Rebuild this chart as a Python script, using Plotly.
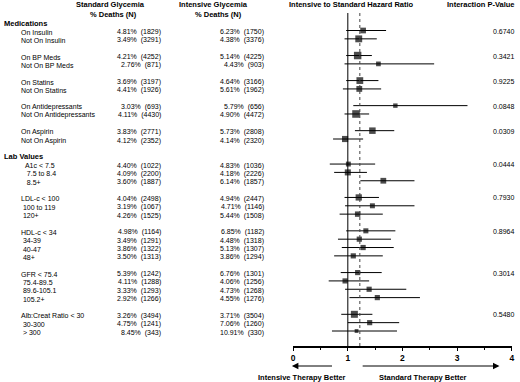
import math
import plotly.graph_objects as go

# ---------------- data ----------------
labels = ["On Insulin", "Not On Insulin",
          "On BP Meds", "Not On BP Meds",
          "On Statins", "Not On Statins",
          "On Antidepressants", "Not On Antidepressants",
          "On Aspirin", "Not On Aspirin",
          "\u00a0\u00a0A1c < 7.5", "\u00a0\u00a0\u00a07.5 to 8.4", "\u00a0\u00a0\u00a08.5+",
          "LDL-c < 100", "\u00a0100 to 119", "\u00a0120+",
          "HDL-c < 34", "\u00a034-39", "\u00a040-47", "\u00a048+",
          "GFR < 75.4", "\u00a075.4-89.5", "\u00a089.6-105.1", "\u00a0105.2+",
          "Alb:Creat Ratio < 30", "\u00a030-300", "\u00a0> 300"]

std_pct = [4.81, 3.49, 4.21, 2.76, 3.69, 4.41, 3.03, 4.11, 3.83, 4.12,
           4.40, 4.09, 3.60, 4.04, 3.19, 4.26, 4.98, 3.49, 3.86, 3.50,
           5.39, 4.11, 3.33, 2.92, 3.26, 4.75, 8.45]
std_n = [1829, 3291, 4252, 871, 3197, 1926, 693, 4430, 2771, 2352,
         1022, 2200, 1887, 2498, 1067, 1525, 1164, 1291, 1322, 1313,
         1242, 1288, 1293, 1266, 3494, 1241, 343]
int_pct = [6.23, 4.38, 5.14, 4.43, 4.64, 5.61, 5.79, 4.90, 5.73, 4.14,
           4.83, 4.18, 6.14, 4.94, 4.71, 5.44, 6.85, 4.48, 5.13, 3.86,
           6.76, 4.06, 4.73, 4.55, 3.71, 7.06, 10.91]
int_n = [1750, 3376, 4225, 903, 3166, 1962, 656, 4472, 2808, 2320,
         1036, 2226, 1857, 2447, 1146, 1508, 1182, 1318, 1307, 1294,
         1301, 1256, 1268, 1276, 3504, 1260, 330]

hr = [1.28, 1.20, 1.18, 1.56, 1.22, 1.21, 1.87, 1.15, 1.45, 0.95,
      1.01, 1.00, 1.65, 1.20, 1.45, 1.18, 1.33, 1.21, 1.28, 1.10,
      1.18, 0.95, 1.39, 1.54, 1.12, 1.40, 1.16]
hr_lo = [0.97, 0.94, 0.97, 0.94, 0.97, 0.91, 1.10, 0.94, 1.13, 0.73,
         0.67, 0.75, 1.23, 0.94, 0.95, 0.85, 0.97, 0.82, 0.89, 0.75,
         0.87, 0.65, 0.95, 1.03, 0.88, 1.00, 0.71]
hr_hi = [1.70, 1.53, 1.44, 2.58, 1.56, 1.61, 3.19, 1.39, 1.85, 1.28,
         1.50, 1.35, 2.22, 1.57, 2.22, 1.64, 1.87, 1.79, 1.84, 1.64,
         1.62, 1.39, 2.07, 2.32, 1.45, 1.94, 1.90]

section_names = ["Medications", "Lab Values"]
group_sizes = [2, 2, 2, 2, 2, 3, 3, 4, 4, 3]
group_section = [0, 0, 0, 0, 0, 1, 1, 1, 1, 1]
p_values = [0.6740, 0.3421, 0.9225, 0.0848, 0.0309, 0.0444, 0.7930, 0.8964, 0.3014, 0.5480]
overall_hr = 1.22
x_ticks = [0, 1, 2, 3, 4]

# ---------------- layout of rows ----------------
W, H = 520, 382
FONT = "Liberation Sans, Arial, Helvetica, sans-serif"


def px(x):
    return x / W


def py(y):
    return 1 - y / H


slots = []
header_slots = []
p_slots = []
k = -1
cur_section = None
for g, size in enumerate(group_sizes):
    if group_section[g] != cur_section:
        cur_section = group_section[g]
        header_slots.append(k)
        k += 1
    p_slots.append(k)
    for j in range(size):
        slots.append(k + j)
    k += size + 1

sizes = [2.4 + 0.055 * math.sqrt(a + b) for a, b in zip(std_n, int_n)]

fig = go.Figure()
fig.add_trace(go.Scatter(
    x=hr, y=slots, mode="markers",
    marker=dict(symbol="square", color="black", size=sizes, line=dict(width=0)),
    error_x=dict(type="data", symmetric=False,
                 array=[h - m for h, m in zip(hr_hi, hr)],
                 arrayminus=[m - l for m, l in zip(hr, hr_lo)],
                 color="black", thickness=1, width=0),
    showlegend=False, hoverinfo="skip", cliponaxis=False,
))

ann = []
small = dict(family=FONT, size=7, color="black")
bold = dict(family=FONT, size=7.5, color="black")

for s, lab, sp, sn, ip, inn in zip(slots, labels, std_pct, std_n, int_pct, int_n):
    ann.append(dict(x=px(17.3), y=s, xref="paper", yref="y", text=lab,
                    xanchor="left", yanchor="middle", showarrow=False,
                    font=small, yshift=-1.5))
    ann.append(dict(x=px(163), y=s, xref="paper", yref="y",
                    text=f"{sp:.2f}%\u00a0\u00a0({sn})",
                    xanchor="right", yanchor="middle", showarrow=False,
                    font=small, yshift=-1.5))
    ann.append(dict(x=px(267), y=s, xref="paper", yref="y",
                    text=f"{ip:.2f}%\u00a0\u00a0({inn})",
                    xanchor="right", yanchor="middle", showarrow=False,
                    font=small, yshift=-1.5))

for s, name in zip(header_slots, section_names):
    ann.append(dict(x=px(0.5), y=s, xref="paper", yref="y", text=f"<b>{name}</b>",
                    xanchor="left", yanchor="middle", showarrow=False, font=bold,
                    yshift=-1))

for s, p in zip(p_slots, p_values):
    ann.append(dict(x=px(519.5), y=s, xref="paper", yref="y", text=f"{p:.4f}",
                    xanchor="right", yanchor="middle", showarrow=False, font=small,
                    yshift=-0.5))

headers = [("Standard Glycemia", 109.5, 4), ("% Deaths (N)", 112.7, 15),
           ("Intensive Glycemia", 213.7, 4), ("% Deaths (N)", 218.7, 15),
           ("Intensive to Standard Hazard Ratio", 353, 4),
           ("Interaction P-Value", 483.3, 4),
           ("Intensive Therapy Better", 303, 377.5),
           ("Standard Therapy Better", 425, 377.5)]
for t, x, y in headers:
    ann.append(dict(x=px(x), y=py(y), xref="paper", yref="paper", text=f"<b>{t}</b>",
                    xanchor="center", yanchor="middle", showarrow=False, font=bold))

# direction arrows
ann.append(dict(x=px(292.7), y=py(366), xref="paper", yref="paper", text="",
                showarrow=True, ax=41.6, ay=0, axref="pixel", ayref="pixel",
                arrowhead=2, arrowsize=1.3, arrowwidth=1, arrowcolor="black"))
ann.append(dict(x=px(502.3), y=py(366), xref="paper", yref="paper", text="",
                showarrow=True, ax=-138.3, ay=0, axref="pixel", ayref="pixel",
                arrowhead=2, arrowsize=1.3, arrowwidth=1, arrowcolor="black"))

shapes = [
    dict(type="line", xref="x", yref="paper", x0=1, x1=1, y0=py(346), y1=py(13),
         line=dict(color="black", width=1)),
    dict(type="line", xref="x", yref="paper", x0=overall_hr, x1=overall_hr,
         y0=py(346), y1=py(13), line=dict(color="#444444", width=1, dash="dot")),
]

ydom0 = 1 - 346 / H
scale = (331 - 30.5) / 36.0
ymin = -30.5 / scale
ymax = ymin + 346 / scale

fig.update_layout(
    width=W, height=H, margin=dict(l=0, r=0, t=0, b=0),
    paper_bgcolor="white", plot_bgcolor="white",
    annotations=ann, shapes=shapes,
    xaxis=dict(domain=[px(294), px(514.7)], range=[0, 4],
               tickvals=x_ticks, ticktext=[f"<b>{v}</b>" for v in x_ticks],
               tickfont=dict(family=FONT, size=8.5, color="black"),
               ticks="outside", ticklen=3, tickwidth=1.2, tickcolor="black",
               minor=dict(dtick=0.5, ticks="outside", ticklen=2, tickcolor="black"),
               showline=True, linecolor="black", linewidth=1.6,
               showgrid=False, zeroline=False, fixedrange=True),
    yaxis=dict(domain=[ydom0, 1], range=[ymax, ymin], visible=False,
               showgrid=False, zeroline=False, fixedrange=True),
    font=dict(family=FONT),
)

fig.write_html("out.html", config={"displayModeBar": False},
               post_script="document.body.style.margin='0';")
